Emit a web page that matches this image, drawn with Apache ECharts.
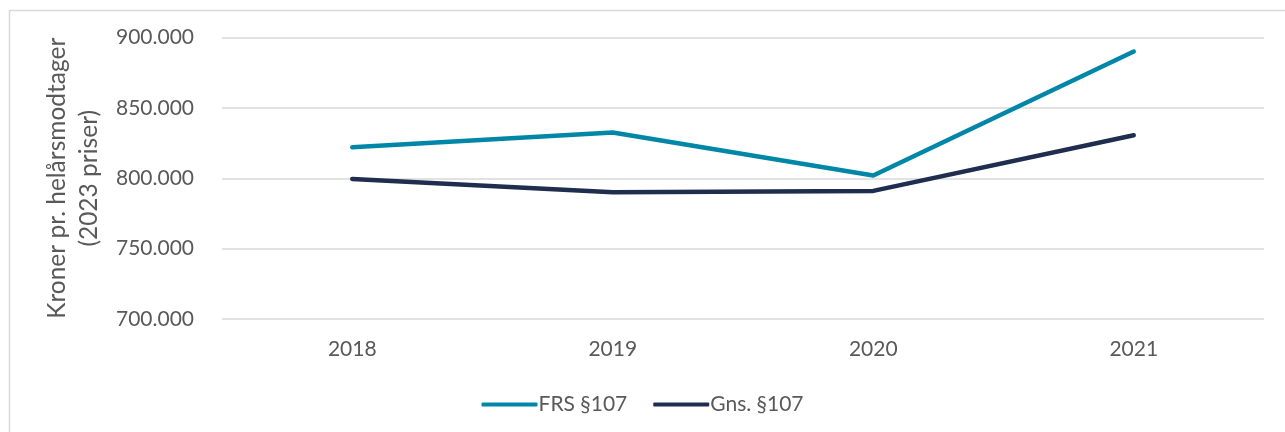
<!DOCTYPE html>
<html>
<head>
<meta charset="utf-8">
<script src="https://cdn.jsdelivr.net/npm/echarts@6/dist/echarts.min.js"></script>
<style>
  html, body { margin: 0; padding: 0; background: #fff; }
  #chart { width: 1285px; height: 432px; }
</style>
</head>
<body>
<div id="chart"></div>
<script>
// --- data ---
const years = ['2018', '2019', '2020', '2021'];
const frsValues = [822000, 832500, 802000, 890000];
const gnsValues = [799500, 790000, 791000, 830500];
const seriesNames = ['FRS §107', 'Gns. §107'];
const yTitle = 'Kroner pr. helårsmodtager\n(2023 priser)';

const textColor = '#595959';
const fontName = 'Lato, "Open Sans", sans-serif';

function fmt(v) {
    // 900000 -> 900.000
    return String(v).replace(/\B(?=(\d{3})+(?!\d))/g, '.');
}

const chart = echarts.init(document.getElementById('chart'));
chart.setOption({
    animation: false,
    textStyle: { fontFamily: fontName },
    graphic: [{
        type: 'rect',
        shape: { x: 9.5, y: 10.5, width: 1290, height: 440 },
        style: { fill: 'none', stroke: '#d9d9d9', lineWidth: 1.5 },
        silent: true
    }],
    grid: { left: 222, right: 21, top: 37.5, bottom: 113 },
    legend: {
        bottom: 12,
        left: 'center',
        itemWidth: 56,
        itemHeight: 4,
        itemGap: 26,
        icon: 'roundRect',
        textStyle: { color: textColor, fontSize: 21, fontFamily: fontName, padding: [0, 0, 0, -4] },
        data: seriesNames
    },
    xAxis: {
        type: 'category',
        data: years,
        boundaryGap: true,
        axisLine: { show: false },
        axisTick: { show: false },
        axisLabel: { color: textColor, fontSize: 21, margin: 20 }
    },
    yAxis: {
        type: 'value',
        min: 700000,
        max: 900000,
        interval: 50000,
        name: yTitle,
        nameLocation: 'middle',
        nameRotate: 90,
        nameGap: 115,
        nameTextStyle: { color: textColor, fontSize: 24.5, lineHeight: 32, fontFamily: fontName },
        axisLine: { show: false },
        axisTick: { show: false },
        axisLabel: { color: textColor, fontSize: 21, margin: 28, formatter: fmt },
        splitLine: { lineStyle: { color: '#d9d9d9', width: 1.5 } }
    },
    series: [
        {
            name: seriesNames[0], type: 'line', data: frsValues,
            symbol: 'none', lineStyle: { color: '#0087a8', width: 4.5, cap: 'round', join: 'round' },
            itemStyle: { color: '#0087a8' }
        },
        {
            name: seriesNames[1], type: 'line', data: gnsValues,
            symbol: 'none', lineStyle: { color: '#1f2d4e', width: 4.5, cap: 'round', join: 'round' },
            itemStyle: { color: '#1f2d4e' }
        }
    ]
});
</script>
</body>
</html>
